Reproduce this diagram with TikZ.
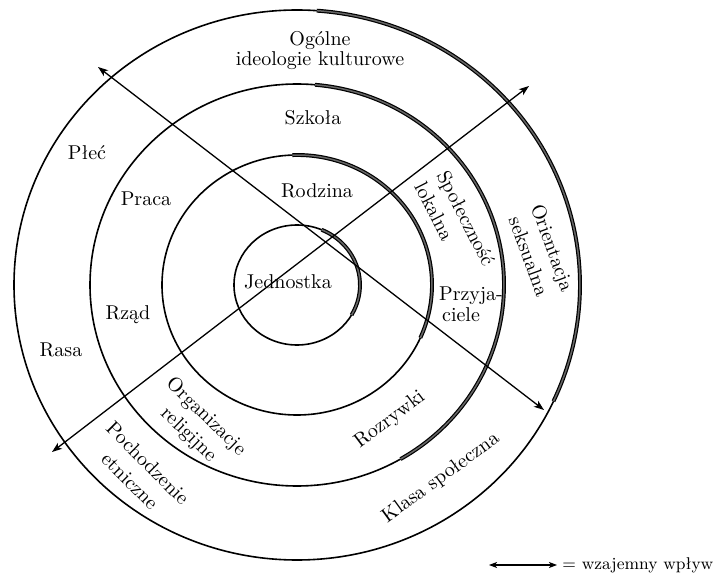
\documentclass[tikz,border=0pt]{standalone}
\usetikzlibrary{arrows.meta}
\begin{document}
\begin{tikzpicture}[x=0.5pt,y=0.5pt,
  ring/.style={line width=0.8pt},
  shadearc/.style={line width=0.6pt, double=black!60, double distance=0.75pt},
  lbl/.style={font=\fontsize{10}{12}\selectfont, inner sep=0pt},
  lbltwo/.style={font=\fontsize{10}{12.6}\selectfont, inner sep=0pt, align=center},
  infl/.style={line width=0.65pt, {Stealth[length=5pt,width=3.6pt,inset=1.2pt]}-{Stealth[length=5pt,width=3.6pt,inset=1.2pt]}}]
\useasboundingbox (0,0) rectangle (714,585);
\coordinate (O) at (297,300);
% rings
\draw[ring] (O) ellipse [x radius=283, y radius=275];
\draw[ring] (O) ellipse [x radius=207, y radius=201];
\draw[ring] (O) ellipse [x radius=135, y radius=130];
\draw[ring] (O) ellipse [x radius=63, y radius=60];
% shaded right-hand parts
\draw[shadearc] (O) ++(86:283 and 275) arc[start angle=86, end angle=-25, x radius=283, y radius=275];
\draw[shadearc] (O) ++(85:207 and 201) arc[start angle=85, end angle=-60, x radius=207, y radius=201];
\draw[shadearc] (O) ++(92:135 and 130) arc[start angle=92, end angle=-24, x radius=135, y radius=130];
\draw[shadearc] (O) ++(67:63 and 60) arc[start angle=67, end angle=-30, x radius=63, y radius=60];
% arrows of mutual influence
\coordinate (a1) at (98,518);
\coordinate (a2) at (544,175);
\coordinate (b1) at (52,133);
\coordinate (b2) at (529,499);
\draw[infl] (a1) -- (a2);
\draw[infl] (b1) -- (b2);
% labels
\node[lbl] (ogolne) at (320,544) {Ogólne};
\node[lbl] (ideol) at (320,524) {ideologie kulturowe};
\node[lbl] (szkola) at (313,467) {Szkoła};
\node[lbl] (plec) at (87,432) {Płeć};
\node[lbl] (praca) at (146,386) {Praca};
\node[lbl] (rodzina) at (317,394) {Rodzina};
\node[lbl] (jedn) at (288,303) {Jednostka};
\node[lbl] (rzad) at (128,270) {Rząd};
\node[lbl] (rasa) at (61,235) {Rasa};
\node[lbltwo, rotate=-44] (org) at (197,159) {Organizacje\\religijne};
\node[lbltwo, rotate=-45] (poch) at (139,113) {Pochodzenie\\etniczne};
\node[lbl, rotate=37] (rozr) at (390,165) {Rozrywki};
\node[lbl, rotate=36] (klasa) at (441,107) {Klasa społeczna};
\node[lbltwo, align=left, rotate=-63] (spol) at (455,361) {Społeczność\\lokalna};
\node[lbltwo, rotate=-70] (orient) at (541,333) {Orientacja\\seksualna};
\node[lbl] (przyj1) at (471,289) {Przyja-};
\node[lbl] (przyj2) at (461,270) {ciele};
% legend
\coordinate (la) at (489,20);
\coordinate (lb) at (557,20);
\draw[line width=0.55pt, {Stealth[length=4pt,width=3pt,inset=1pt]}-{Stealth[length=4pt,width=3pt,inset=1pt]}] (la) -- (lb);
\node[lbl, font=\fontsize{8.5}{10}\selectfont, anchor=west] (legend) at (562,20) {= wzajemny wpływ};
\end{tikzpicture}
\end{document}
